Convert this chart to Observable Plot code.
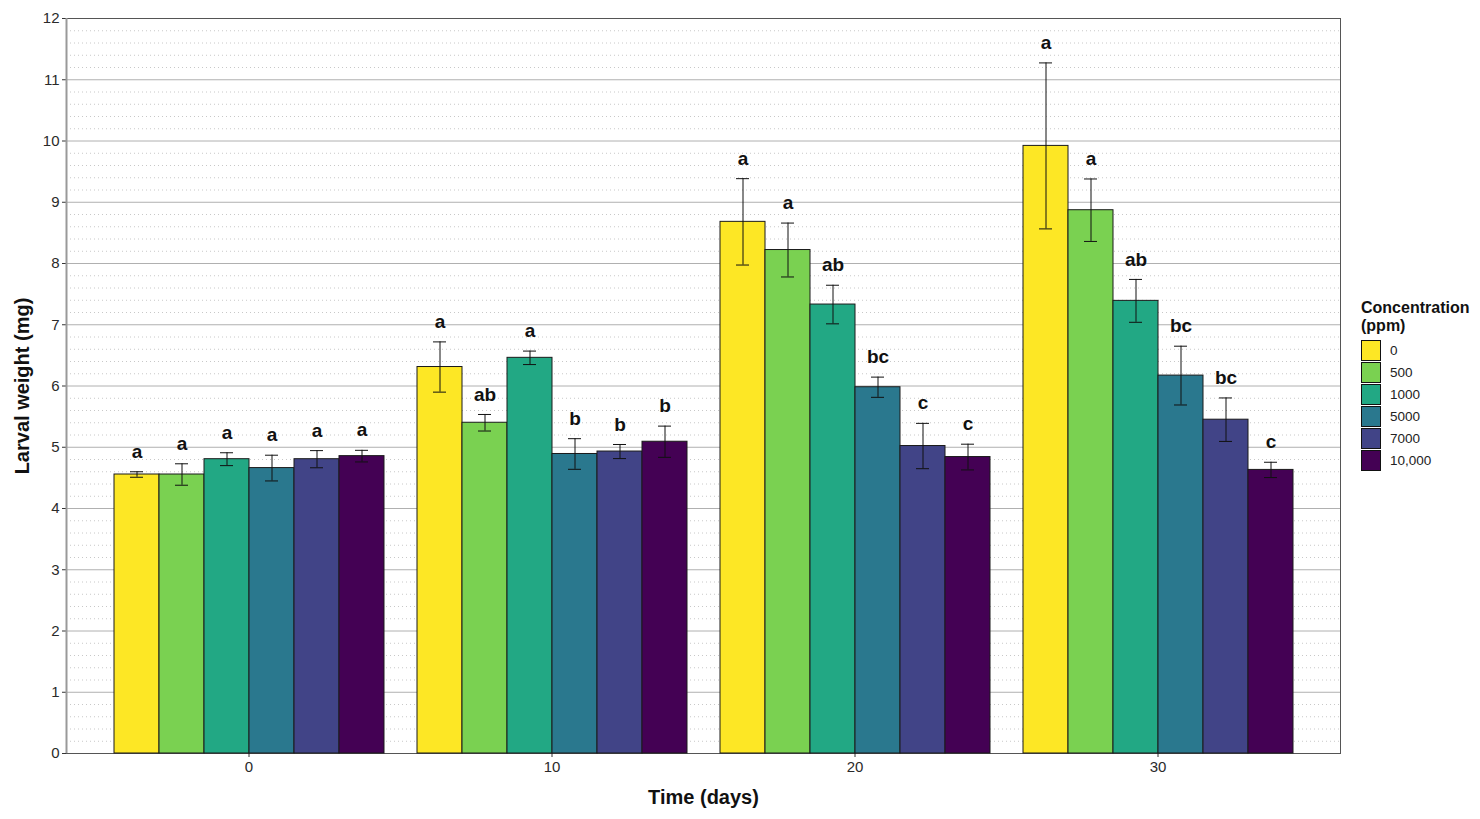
<!DOCTYPE html>
<html>
<head>
<meta charset="utf-8">
<script src="https://cdn.jsdelivr.net/npm/d3@7"></script>
<script src="https://cdn.jsdelivr.net/npm/@observablehq/plot@0.6"></script>
<style>
  html, body { margin: 0; padding: 0; background: #fff; overflow: hidden; }
  #wrap { position: relative; width: 1480px; height: 819px; font-family: "Liberation Sans", Arial, sans-serif; }
  #wrap > svg, #wrap > figure { position: absolute; left: 0; top: 0; margin: 0; }
  #wrap svg g[aria-label*="axis"], #wrap svg g[aria-label*="axis"] text { font-size: 15px; fill: #2a2a2a; }
  #legend { position: absolute; left: 1361px; top: 299px; font-family: "Liberation Sans", Arial, sans-serif; color: #111; }
  #legend .title { font-weight: bold; font-size: 16px; line-height: 18px; margin-bottom: 4px; }
  #legend .row { display: flex; align-items: center; height: 22px; }
  #legend .sw { width: 20px; height: 21px; box-sizing: border-box; border: 1px solid #111; margin-right: 9px; }
  #legend .lab { font-size: 13.5px; color: #222; }
</style>
</head>
<body>
<div id="wrap"></div>
<script>
// ---- data ----
const days = [0, 10, 20, 30];
const concentrations = ["0", "500", "1000", "5000", "7000", "10,000"];
const colors = ["#FDE725", "#7AD151", "#22A884", "#2A788E", "#414487", "#440154"];
const yTicks = [0, 1, 2, 3, 4, 5, 6, 7, 8, 9, 10, 11, 12];

const meanDay0  = [4.555, 4.555, 4.805, 4.66, 4.805, 4.855];
const seDay0    = [0.045, 0.175, 0.105, 0.21, 0.14, 0.095];
const letDay0   = ["a", "a", "a", "a", "a", "a"];

const meanDay10 = [6.31, 5.40, 6.46, 4.89, 4.93, 5.09];
const seDay10   = [0.41, 0.135, 0.11, 0.25, 0.115, 0.255];
const letDay10  = ["a", "ab", "a", "b", "b", "b"];

const meanDay20 = [8.68, 8.22, 7.33, 5.98, 5.02, 4.84];
const seDay20   = [0.705, 0.44, 0.315, 0.165, 0.37, 0.21];
const letDay20  = ["a", "a", "ab", "bc", "c", "c"];

const meanDay30 = [9.92, 8.87, 7.39, 6.17, 5.45, 4.63];
const seDay30   = [1.355, 0.51, 0.35, 0.48, 0.355, 0.125];
const letDay30  = ["a", "a", "ab", "bc", "bc", "c"];

const means = [meanDay0, meanDay10, meanDay20, meanDay30];
const ses = [seDay0, seDay10, seDay20, seDay30];
const lets = [letDay0, letDay10, letDay20, letDay30];

const data = [];
days.forEach((d, i) => concentrations.forEach((c, j) => {
  data.push({day: d, conc: c, mean: means[i][j], lo: means[i][j] - ses[i][j], hi: means[i][j] + ses[i][j], letter: lets[i][j]});
}));

const minorTicks = d3.range(0, 12.001, 0.2).filter(v => Math.abs(v - Math.round(v)) > 1e-6);

const W = 1480, H = 819;
const M = {marginLeft: 66, marginRight: 140, marginTop: 18, marginBottom: 66};
const font = '"Liberation Sans", Arial, sans-serif';

// ---- background: grid, frame, y axis, titles ----
const bg = Plot.plot({
  width: W, height: H, ...M,
  style: {fontFamily: font, fontSize: "15px", color: "#333", background: "white"},
  x: {domain: [0, 1], axis: null},
  y: {domain: [0, 12], ticks: yTicks, tickSize: 4, tickPadding: 3, label: null},
  marks: [
    Plot.ruleY(minorTicks, {stroke: "#c8c8c8", strokeWidth: 1, strokeDasharray: "1,3"}),
    Plot.ruleY(yTicks, {stroke: "#b0b0b0", strokeWidth: 1}),
    Plot.frame({stroke: "#555", strokeWidth: 1}),
    Plot.ruleX([0], {stroke: "#999", strokeWidth: 2}),
    Plot.text(["Larval weight (mg)"], {text: d => d, frameAnchor: "left", dx: -44, rotate: -90, textAnchor: "middle", lineAnchor: "middle", fontWeight: "bold", fontSize: 20, fill: "#111"}),
    Plot.text(["Time (days)"], {text: d => d, frameAnchor: "bottom", dy: 44, textAnchor: "middle", lineAnchor: "middle", fontWeight: "bold", fontSize: 20, fill: "#111"})
  ]
});

// ---- foreground: bars, error bars, letters ----
const fg = Plot.plot({
  width: W, height: H, ...M,
  style: {fontFamily: font, fontSize: "15px", color: "#333", background: "transparent"},
  facet: {data: data, x: "day"},
  fx: {domain: days, paddingInner: 0.1, paddingOuter: 0.15, axis: "bottom", label: null, tickSize: 4, tickPadding: 4},
  x: {domain: concentrations, padding: 0, axis: null},
  y: {domain: [0, 12], axis: null},
  color: {domain: concentrations, range: colors},
  marks: [
    Plot.barY(data, {x: "conc", y: "mean", fill: "conc", stroke: "#1a1a1a", strokeWidth: 1}),
    Plot.ruleX(data, {x: "conc", y1: "lo", y2: "hi", stroke: "#111", strokeWidth: 1}),
    Plot.tickY(data, {x: "conc", y: "hi", stroke: "#111", strokeWidth: 1, insetLeft: 16, insetRight: 16}),
    Plot.tickY(data, {x: "conc", y: "lo", stroke: "#111", strokeWidth: 1, insetLeft: 16, insetRight: 16}),
    Plot.text(data, {x: "conc", y: "hi", text: "letter", dy: -20, lineAnchor: "middle", fontWeight: "bold", fontSize: 19, fill: "#111"})
  ]
});

const wrap = document.getElementById("wrap");
wrap.appendChild(bg);
wrap.appendChild(fg);

// ---- legend ----
const leg = document.createElement("div");
leg.id = "legend";
leg.innerHTML = '<div class="title">Concentration<br>(ppm)</div>' +
  concentrations.map((c, i) => `<div class="row"><div class="sw" style="background:${colors[i]}"></div><div class="lab">${c}</div></div>`).join("");
wrap.appendChild(leg);
</script>
</body>
</html>
